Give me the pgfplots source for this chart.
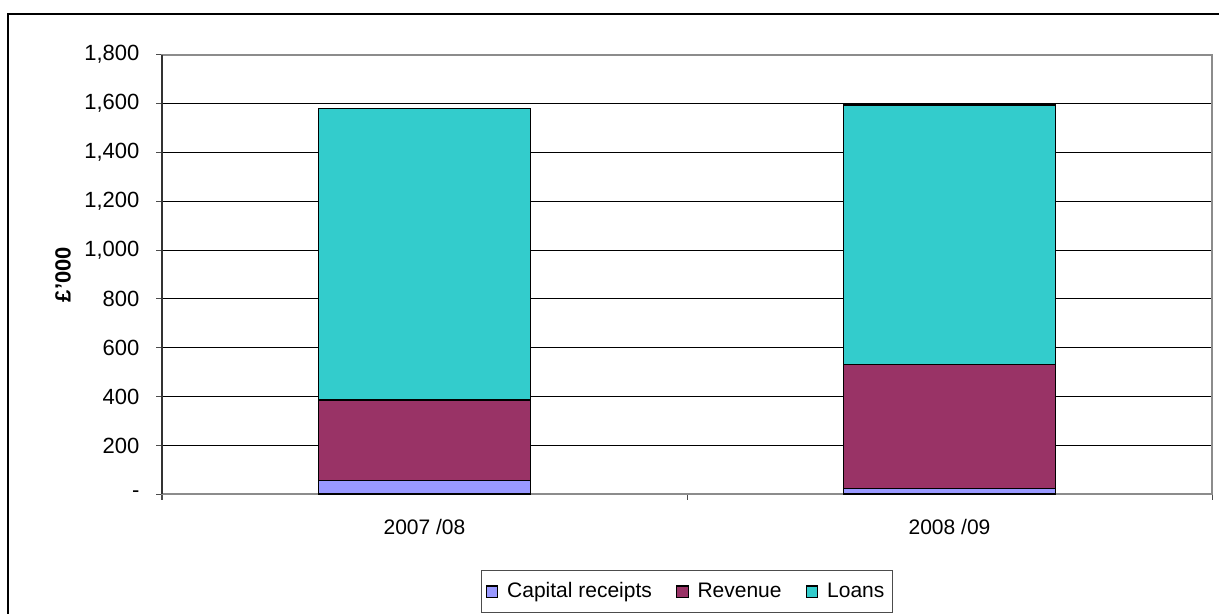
\documentclass[border=0pt]{standalone}
\usepackage{fontspec}
\setmainfont{Liberation Sans}
\usepackage{pgfplots}
\pgfplotsset{compat=1.18}
\definecolor{capc}{HTML}{9999FF}
\definecolor{revc}{HTML}{993366}
\definecolor{loac}{HTML}{33CCCC}
\pgfplotsset{myleg/.style={legend image code/.code={\path[draw=none,fill=none] (0pt,-3pt) rectangle (8.5pt,2.8pt);\draw[##1,draw=black,line width=0.6pt] (0pt,-3pt) rectangle (5.8pt,2.8pt);}}}
\begin{document}
\begin{tikzpicture}
\useasboundingbox (-81pt,-59.85pt) rectangle (528.5pt,247.15pt);
\draw[black, line width=1pt] (-77pt,-70pt) -- (-77pt,240.15pt) -- (540pt,240.15pt);
\begin{axis}[
 at={(0,0)}, anchor=south west,
 scale only axis, width=525pt, height=219.8pt,
 ybar stacked, bar width=0.404,
 xmin=-0.5, xmax=1.5, ymin=0, ymax=1800,
 xtick={-0.5,0.5,1.5}, x tick label as interval,
 xticklabels={2007 /08, 2008 /09},
 ytick={0,200,...,1800},
 yticklabels={-,200,400,600,800,{1,000},{1,200},{1,400},{1,600},{1,800}},
 xtick pos=bottom, ytick pos=left,
 tick align=outside, major tick length=2.8pt,
 tick style={black!70, line width=0.5pt},
 ymajorgrids, major grid style={black, line width=0.5pt},
 axis line style={black!45, line width=1pt},
 tick label style={font=\fontsize{10.5}{12}\selectfont},
 yticklabel style={xshift=-5pt, font=\fontsize{11}{12}\selectfont},
 xticklabel style={yshift=-6pt},
 ylabel={\textbf{£'000}},
 ylabel style={at={(axis description cs:-0.0943,0.5)}, anchor=center, font=\fontsize{11}{12}\selectfont},
 legend style={at={(0.5,-0.1722)}, anchor=north, legend columns=-1, draw=black!70, line width=0.5pt,
   font=\fontsize{10.5}{12}\selectfont, inner xsep=2pt, inner ysep=4pt,
   /tikz/every even column/.append style={column sep=10pt}},
]
\addplot[fill=capc, draw=black, line width=0.8pt, myleg] coordinates {(0,57) (1,23)};
\addplot[fill=revc, draw=black, line width=0.8pt, myleg] coordinates {(0,328) (1,509)};
\addplot[fill=loac, draw=black, line width=0.8pt, myleg] coordinates {(0,1194) (1,1063)};
\legend{Capital receipts, Revenue, Loans}
\end{axis}
\draw[black!80, line width=0.7pt] (0,0) -- (0,219.8pt);
\end{tikzpicture}
\end{document}
